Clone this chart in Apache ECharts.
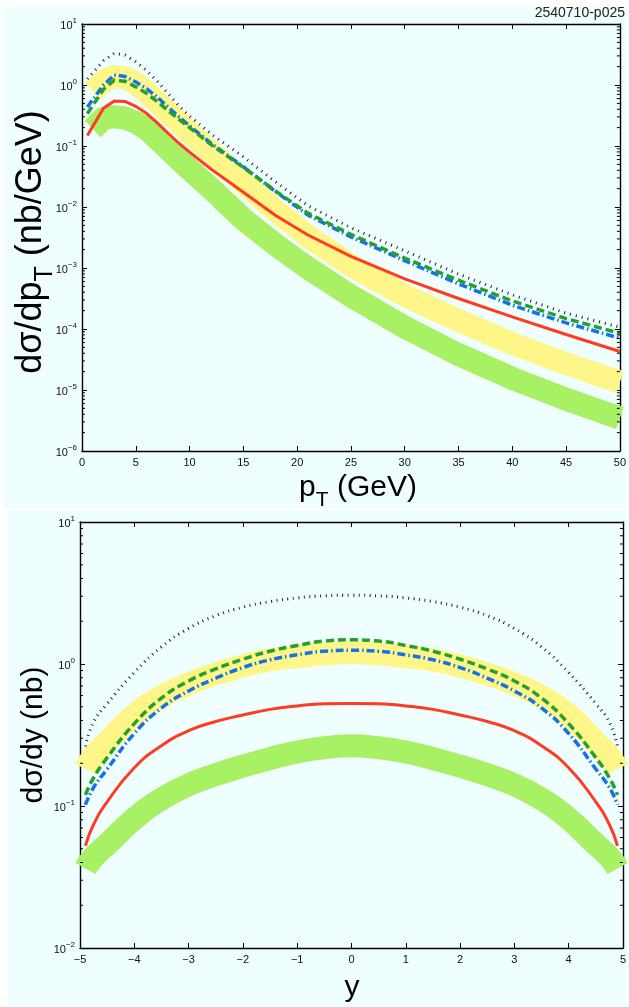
<!DOCTYPE html>
<html><head><meta charset="utf-8">
<script src="https://cdn.jsdelivr.net/npm/echarts@6/dist/echarts.min.js"></script>
<style>html,body{margin:0;padding:0;background:#fff;}#c{width:629px;height:1007px;}</style>
</head><body><div id="c"></div>
<script>
// ---------- top panel: d sigma / d pT ----------
const ptLines = [0.5, 2, 3, 4, 5, 6, 7, 8, 9, 10, 12, 15, 18, 21, 25, 30, 35, 40, 45, 50];
const ptBands = [1, 2, 3, 4, 5, 6, 7, 8, 9, 10, 12, 15, 18, 21, 25, 30, 35, 40, 45, 50];
const ptDotted  = [1.26, 2.51, 3.31, 3.09, 2.40, 1.74, 1.15, 0.724, 0.457, 0.309, 0.158, 0.0661, 0.0257, 0.0105, 0.00457, 0.00191, 7.94e-4, 3.63e-4, 1.82e-4, 1.07e-4];
const ptDashDot = [0.436, 1.0, 1.46, 1.38, 1.12, 0.871, 0.631, 0.436, 0.302, 0.214, 0.110, 0.0457, 0.0178, 0.00741, 0.00324, 0.00132, 5.5e-4, 2.45e-4, 1.26e-4, 7.08e-5];
const ptDashed  = [0.339, 0.851, 1.20, 1.15, 0.933, 0.729, 0.537, 0.380, 0.275, 0.200, 0.105, 0.0447, 0.0182, 0.00794, 0.00355, 0.00145, 6.31e-4, 2.88e-4, 1.48e-4, 8.51e-5];
const ptSolid   = [0.148, 0.417, 0.547, 0.537, 0.447, 0.343, 0.240, 0.162, 0.111, 0.0794, 0.0417, 0.0174, 0.00724, 0.00347, 0.00155, 6.61e-4, 3.16e-4, 1.58e-4, 8.13e-5, 4.27e-5];
const ptYellowBand = [0.794, 1.15, 1.38, 1.32, 1.07, 0.759, 0.525, 0.355, 0.245, 0.166, 0.0794, 0.0251, 0.00871, 0.00331, 0.0011, 3.55e-4, 1.38e-4, 5.75e-5, 2.69e-5, 1.35e-5];
const ptGreenBand  = [0.191, 0.282, 0.302, 0.288, 0.245, 0.191, 0.132, 0.0891, 0.0603, 0.0417, 0.02, 0.00631, 0.0024, 0.001, 3.47e-4, 1.07e-4, 3.8e-5, 1.55e-5, 7.08e-6, 3.47e-6];

// ---------- bottom panel: d sigma / dy ----------
const yPoints = [-4.9, -4.75, -4.5, -4, -3.5, -3, -2.5, -2, -1.5, -1, -0.5, 0, 0.5, 1, 1.5, 2, 2.5, 3, 3.5, 4, 4.5, 4.75, 4.9];
const yDotted  = [0.263, 0.389, 0.525, 0.871, 1.32, 1.78, 2.19, 2.51, 2.75, 2.92, 3.02, 3.05, 3.02, 2.92, 2.75, 2.51, 2.19, 1.78, 1.32, 0.871, 0.525, 0.389, 0.263];
const yDashed  = [0.120, 0.158, 0.219, 0.380, 0.575, 0.759, 0.923, 1.08, 1.23, 1.35, 1.45, 1.48, 1.45, 1.35, 1.23, 1.08, 0.923, 0.759, 0.575, 0.380, 0.219, 0.158, 0.120];
const yDashDot = [0.102, 0.135, 0.182, 0.324, 0.490, 0.646, 0.794, 0.944, 1.07, 1.16, 1.23, 1.25, 1.23, 1.16, 1.07, 0.944, 0.794, 0.646, 0.490, 0.324, 0.182, 0.135, 0.102];
const ySolid   = [0.0525, 0.0741, 0.107, 0.186, 0.266, 0.339, 0.394, 0.437, 0.479, 0.507, 0.525, 0.528, 0.525, 0.507, 0.479, 0.437, 0.394, 0.339, 0.266, 0.186, 0.107, 0.0741, 0.0525];
const yYellowBand = [0.182, 0.224, 0.282, 0.437, 0.589, 0.724, 0.851, 0.968, 1.07, 1.13, 1.18, 1.20, 1.18, 1.13, 1.07, 0.968, 0.851, 0.724, 0.589, 0.437, 0.282, 0.224, 0.182];
const yGreenBand  = [0.0363, 0.0437, 0.0537, 0.0813, 0.112, 0.141, 0.166, 0.191, 0.216, 0.240, 0.257, 0.266, 0.257, 0.240, 0.216, 0.191, 0.166, 0.141, 0.112, 0.0813, 0.0537, 0.0437, 0.0363];

// minor log ticks (2..9 per decade)
const minorMult = [2, 3, 4, 5, 6, 7, 8, 9];
const topDecades = [1e-6, 1e-5, 1e-4, 1e-3, 1e-2, 1e-1, 1];
const botDecades = [1e-2, 1e-1, 1];

const FONT = 'Liberation Sans';
const BG = '#effefe';
const C_YEL = '#fff689', C_GRN = '#a9f164', C_RED = '#ff3b22', C_DGRN = '#24a02c', C_BLUE = '#1670ea', C_BLK = '#222';

function pairs(xs, vs) { return xs.map((x, i) => [x, vs[i]]); }
function minorData(decs, x0) { const out = []; decs.forEach(d => minorMult.forEach(m => out.push([x0, m * d]))); return out; }

function logLabel(v) {
  const e = Math.round(Math.log10(v));
  return '{b|10}{s|' + (e < 0 ? '\u2212' + (-e) : e) + '}';
}
const logRich = {
  b: { fontSize: 11, fontFamily: FONT, color: '#111', verticalAlign: 'bottom', lineHeight: 14 },
  s: { fontSize: 8, fontFamily: FONT, color: '#111', verticalAlign: 'top', lineHeight: 14 }
};

function lineSeries(gi, data, color, width, type, z, smooth) {
  return {
    type: 'line', xAxisIndex: gi * 2, yAxisIndex: gi * 2, data: data, symbol: 'none', smooth: smooth,
    lineStyle: { color: color, width: width, type: type, cap: 'butt', join: 'miter' }, z: z, silent: true
  };
}
function minorSeries(gi, data) {
  return {
    type: 'custom', xAxisIndex: gi * 2, yAxisIndex: gi * 2, data: data, silent: true, z: 10, clip: false,
    renderItem: function (params, api) {
      const p = api.coord([api.value(0), api.value(1)]);
      const cs = params.coordSys;
      return { type: 'group', children: [
        { type: 'line', shape: { x1: cs.x, y1: p[1], x2: cs.x + 3, y2: p[1] }, style: { stroke: '#000', lineWidth: 1 } },
        { type: 'line', shape: { x1: cs.x + cs.width - 3, y1: p[1], x2: cs.x + cs.width, y2: p[1] }, style: { stroke: '#000', lineWidth: 1 } }
      ]};
    }
  };
}

const axisLine = { show: true, onZero: false, lineStyle: { color: '#000', width: 1.4 } };
const tickIn = { show: true, inside: true, length: 5, lineStyle: { color: '#000', width: 1 } };

function xAxes(gi, min, max, step, fmt) {
  return [
    { gridIndex: gi, type: 'value', position: 'bottom', min: min, max: max, interval: step,
      axisLine: axisLine, axisTick: tickIn, splitLine: { show: false },
      axisLabel: { show: true, margin: 6, fontSize: 11, fontFamily: FONT, color: '#111', formatter: fmt } },
    { gridIndex: gi, type: 'value', position: 'top', min: min, max: max, interval: step,
      axisLine: axisLine, axisTick: tickIn, splitLine: { show: false }, axisLabel: { show: false } }
  ];
}
function yAxes(gi, min, max, split) {
  return [
    { gridIndex: gi, type: 'log', logBase: 10, position: 'left', min: min, max: max, splitNumber: split,
      axisLine: axisLine, axisTick: tickIn, splitLine: { show: false }, minorTick: { show: false },
      axisLabel: { show: true, margin: 5, formatter: logLabel, rich: logRich } },
    { gridIndex: gi, type: 'log', logBase: 10, position: 'right', min: min, max: max, splitNumber: split,
      axisLine: axisLine, axisTick: tickIn, splitLine: { show: false }, axisLabel: { show: false } }
  ];
}

function titleRich(size) {
  return {
    n: { fontSize: size, fontFamily: FONT, color: '#000', verticalAlign: 'middle', lineHeight: size * 1.5 },
    sub: { fontSize: Math.round(size * 0.7), fontFamily: FONT, color: '#000', verticalAlign: 'bottom', lineHeight: size * 1.5 }
  };
}

const chart = echarts.init(document.getElementById('c'), null, { renderer: 'canvas' });
chart.setOption({
  animation: false,
  backgroundColor: '#ffffff',
  graphic: [
    { type: 'rect', z: -100, shape: { x: 3, y: 7, width: 626, height: 501 }, style: { fill: BG } },
    { type: 'rect', z: -100, shape: { x: 8, y: 510, width: 621, height: 497 }, style: { fill: BG } },
    { type: 'text', x: 625, y: 13, style: { text: '2540710-p025', font: '14px "Liberation Sans"', fill: '#222', align: 'right', verticalAlign: 'middle' } },
    { type: 'text', x: 31, y: 242, rotation: Math.PI / 2,
      style: { text: '{n|dσ/dp}{sub|T}{n| (nb/GeV)}', rich: titleRich(36), align: 'center', verticalAlign: 'middle' } },
    { type: 'text', x: 358, y: 488,
      style: { text: '{n|p}{sub|T}{n| (GeV)}', rich: titleRich(30), align: 'center', verticalAlign: 'middle' } },
    { type: 'text', x: 34, y: 735, rotation: Math.PI / 2,
      style: { text: '{n|dσ/dy (nb)}', rich: titleRich(30), align: 'center', verticalAlign: 'middle' } },
    { type: 'text', x: 352, y: 988,
      style: { text: '{n|y}', rich: titleRich(30), align: 'center', verticalAlign: 'middle' } }
  ],
  grid: [
    { left: 82, right: 4, top: 24, height: 427, show: true, backgroundColor: BG, borderWidth: 0 },
    { left: 80, right: 4, top: 522, height: 426, show: true, backgroundColor: BG, borderWidth: 0 }
  ],
  xAxis: [].concat(
    xAxes(0, 0, 50, 5, v => String(v)),
    xAxes(1, -5, 5, 1, v => String(v).replace('-', '\u2212'))
  ),
  yAxis: [].concat(yAxes(0, 1e-6, 10, 7), yAxes(1, 1e-2, 10, 3)),
  series: [
    lineSeries(0, pairs(ptBands, ptGreenBand), C_GRN, 23, 'solid', 1, false),
    lineSeries(0, pairs(ptBands, ptYellowBand), C_YEL, 23, 'solid', 1, false),
    lineSeries(0, pairs(ptLines, ptSolid), C_RED, 3, 'solid', 3, false),
    lineSeries(0, pairs(ptLines, ptDashDot), C_BLUE, 3.5, [8, 3, 1.5, 3], 4, false),
    lineSeries(0, pairs(ptLines, ptDashed), C_DGRN, 3.5, [8, 4], 5, false),
    lineSeries(0, pairs(ptLines, ptDotted), C_BLK, 3, [1, 5], 6, false),
    minorSeries(0, minorData(topDecades, 0)),

    lineSeries(1, pairs(yPoints, yGreenBand), C_GRN, 23, 'solid', 1, 0.5),
    lineSeries(1, pairs(yPoints, yYellowBand), C_YEL, 23, 'solid', 1, 0.5),
    lineSeries(1, pairs(yPoints, ySolid), C_RED, 3, 'solid', 3, 0.5),
    lineSeries(1, pairs(yPoints, yDashDot), C_BLUE, 3.5, [8, 3, 1.5, 3], 4, 0.5),
    lineSeries(1, pairs(yPoints, yDashed), C_DGRN, 3.5, [8, 4], 5, 0.5),
    lineSeries(1, pairs(yPoints, yDotted), C_BLK, 3, [1, 4.5], 6, 0.5),
    minorSeries(1, minorData(botDecades, -5))
  ]
});
</script></body></html>
